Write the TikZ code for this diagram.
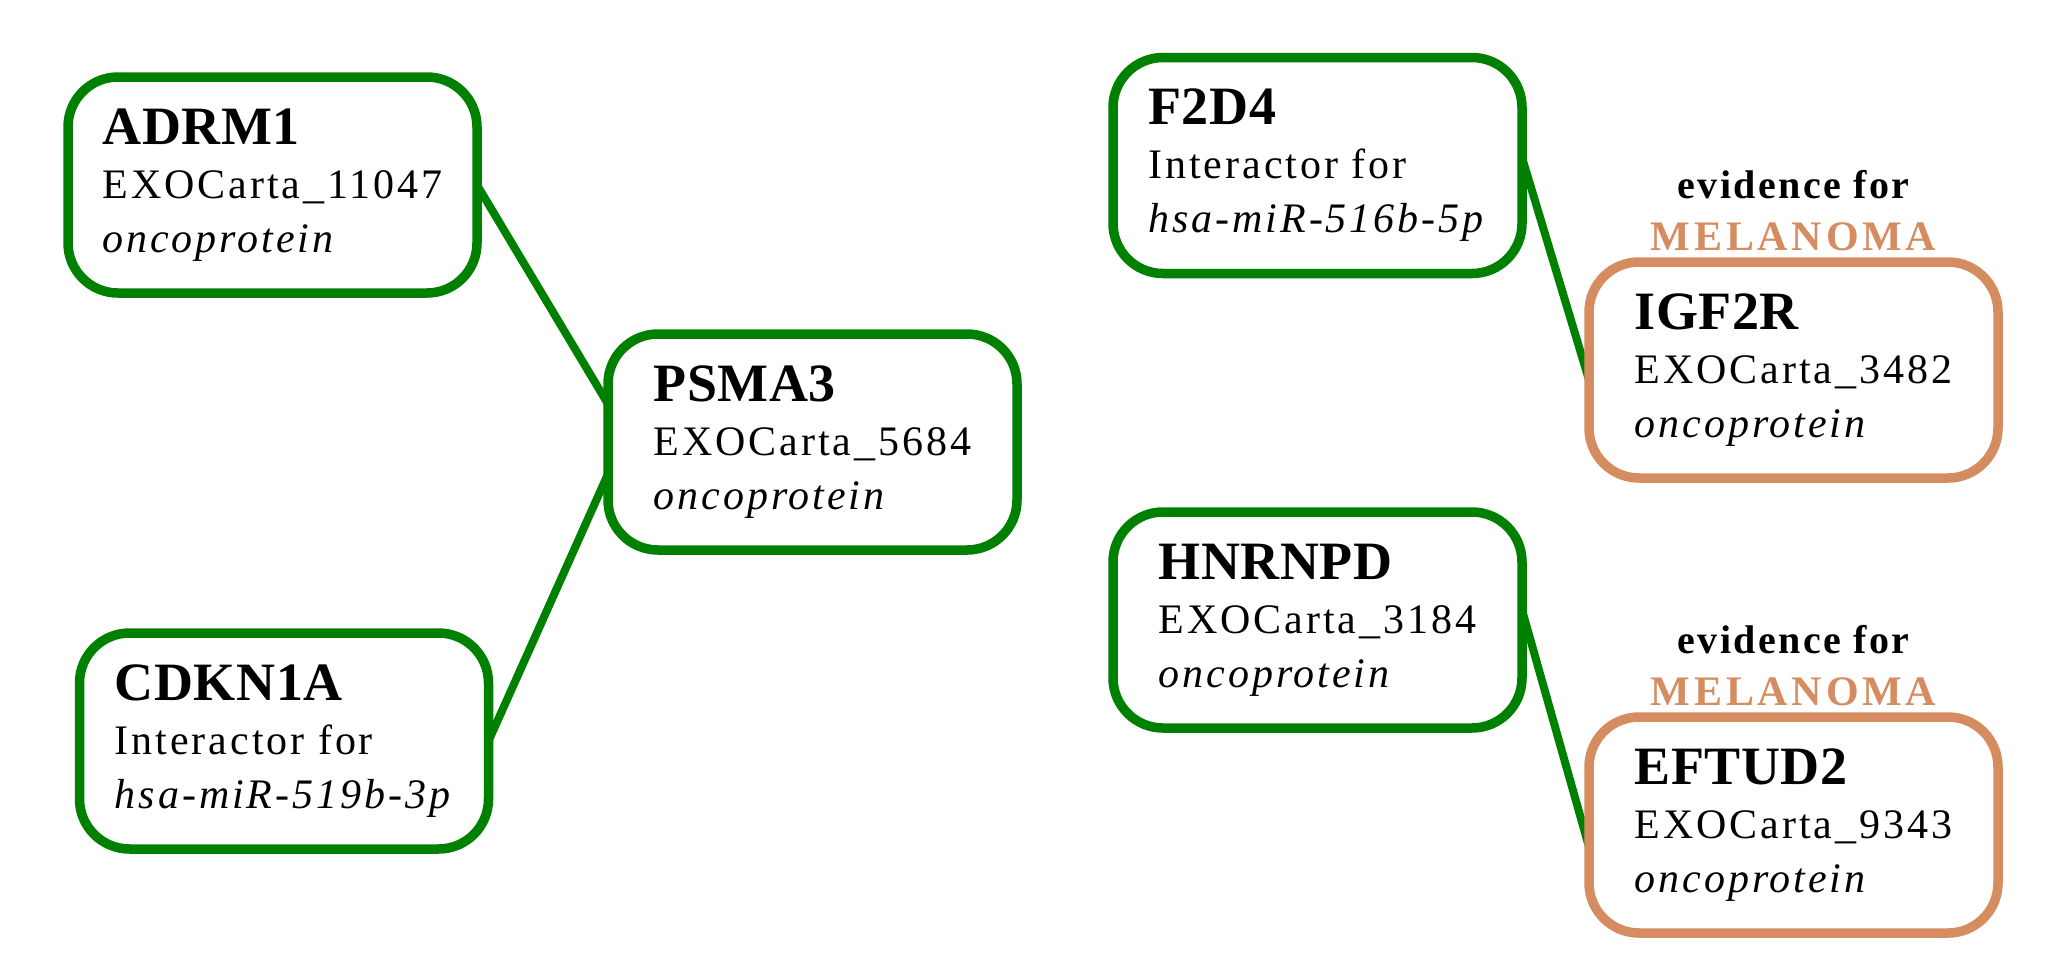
\documentclass[tikz,border=0pt]{standalone}
\usepackage{fontspec}
\setmainfont{Liberation Serif}
\newfontfamily\bodyserif{Liberation Serif}[LetterSpace=7]
\newfontfamily\headserif{Liberation Serif}[LetterSpace=1]
\newfontfamily\evidserif{Liberation Serif}[LetterSpace=6]
\newfontfamily\diseaseserif{Liberation Serif}[LetterSpace=9]
\usetikzlibrary{calc,backgrounds}
\definecolor{edgegreen}{RGB}{0,128,0}
\definecolor{melanoma}{RGB}{212,140,96}
\newcommand\genetitle[1]{{\headserif\bfseries\fontsize{27}{27}\selectfont #1}}
\begin{document}
\begin{tikzpicture}[x=0.5pt,y=-0.5pt,
  gene/.style={draw=edgegreen, fill=white, line width=4.75pt,
    rounded corners=25pt, minimum width=204.5pt, minimum height=108pt,
    inner sep=0pt, outer sep=0pt, align=left,
    font=\bodyserif\fontsize{21}{27}\selectfont},
  markergene/.style={gene, draw=melanoma},
  link/.style={draw=edgegreen, line width=4pt},
  evid/.style={inner sep=0pt, font=\evidserif\bfseries\fontsize{20}{20}\selectfont},
  disease/.style={inner sep=0pt, text=melanoma,
    font=\diseaseserif\bfseries\fontsize{21}{21}\selectfont}]
\useasboundingbox (0,0) rectangle (2069,955);

% interaction partners
\node[gene] (ADRM1) at (272.5,185) {\genetitle{ADRM1}\\EXOCarta\_11047\\\textit{oncoprotein}};
\node[gene] (PSMA3) at (812.5,442) {\genetitle{PSMA3}\\EXOCarta\_5684\\\textit{oncoprotein}};
\node[gene] (CDKN1A) at (284,741) {\genetitle{CDKN1A}\\Interactor for\\\textit{hsa-miR-519b-3p}};
\node[gene] (F2D4) at (1317.5,165.5) {\genetitle{F2D4}\\Interactor for\\\textit{hsa-miR-516b-5p}};
\node[gene] (HNRNPD) at (1317.5,620) {\genetitle{HNRNPD}\\EXOCarta\_3184\\\textit{oncoprotein}};

% proteins with disease evidence
\node[markergene] (IGF2R) at (1793.5,370) {\genetitle{IGF2R}\\EXOCarta\_3482\\\textit{oncoprotein}};
\node[markergene] (EFTUD2) at (1793.5,825) {\genetitle{EFTUD2}\\EXOCarta\_9343\\\textit{oncoprotein}};

\node[evid, anchor=base] (IGF2R-evid) at ($(IGF2R.north)+(0,-64)$) {evidence for};
\node[disease, anchor=base] (IGF2R-dis) at ($(IGF2R.north)+(0,-12)$) {MELANOMA};
\node[evid, anchor=base] (EFTUD2-evid) at ($(EFTUD2.north)+(0,-64)$) {evidence for};
\node[disease, anchor=base] (EFTUD2-dis) at ($(EFTUD2.north)+(0,-12)$) {MELANOMA};

% interactions
\begin{scope}[on background layer]
\draw[link] (ADRM1.east) -- ($(PSMA3.west)+(0,-38)$);
\draw[link] (CDKN1A.east) -- ($(PSMA3.west)+(0,32)$);
\draw[link] ($(F2D4.east)+(0,-8)$) -- ($(IGF2R.west)+(0,10)$);
\draw[link] ($(HNRNPD.east)+(0,-10)$) -- ($(EFTUD2.west)+(0,22)$);
\end{scope}
\end{tikzpicture}
\end{document}
